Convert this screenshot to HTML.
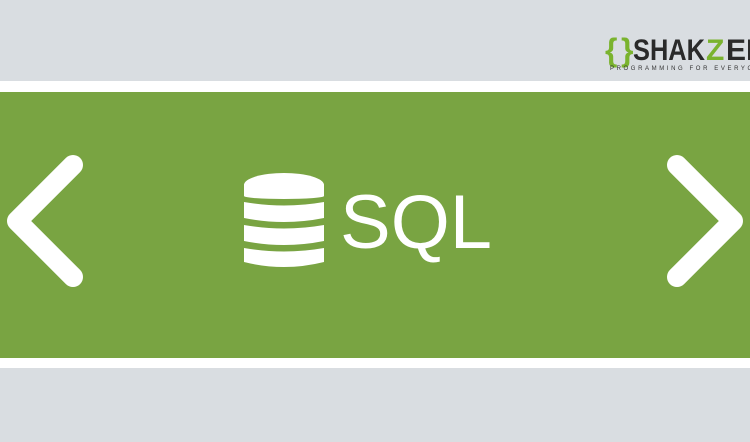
<!DOCTYPE html>
<html><head><style>
html,body{margin:0;padding:0;width:750px;height:442px;overflow:hidden;background:#d9dde1;}
</style></head><body>
<svg width="750" height="442" xmlns="http://www.w3.org/2000/svg" style="position:absolute;left:0;top:0">
<rect x="0" y="0" width="750" height="442" fill="#d9dde1"/>
<rect x="0" y="81" width="750" height="11" fill="#ffffff"/>
<rect x="0" y="92" width="750" height="266" fill="#79a442"/>
<rect x="0" y="358" width="750" height="10" fill="#ffffff"/>
<polyline points="73,165 17,221 73,277" fill="none" stroke="#fff" stroke-width="20" stroke-linecap="round" stroke-linejoin="round"/>
<polyline points="677,165 733,221 677,277" fill="none" stroke="#fff" stroke-width="20" stroke-linecap="round" stroke-linejoin="round"/>
<g fill="#fff">
<ellipse cx="284" cy="185" rx="40" ry="12"/>
<rect x="244" y="185" width="80" height="11" />
<ellipse cx="284" cy="196" rx="40" ry="3"/>
<path d="M244,202 Q284,209 324,202 L324,218 Q284,226 244,218 Z"/>
<path d="M244,225 Q284,232 324,225 L324,241 Q284,249 244,241 Z"/>
<path d="M244,248 Q284,255 324,248 L324,262 Q284,272 244,262 Z"/>
</g>
<text x="340" y="248" font-family="Liberation Sans, sans-serif" font-size="76" fill="#fff">SQL</text>
<text x="605" y="61" font-family="Liberation Sans, sans-serif" font-size="32" fill="#7ab32e" font-weight="bold">{</text>
<text x="621" y="61" font-family="Liberation Sans, sans-serif" font-size="32" fill="#7ab32e" font-weight="bold">}</text>
<text x="633" y="60" font-family="Liberation Sans, sans-serif" font-size="30" font-weight="bold" fill="#2a2a2a" textLength="72" lengthAdjust="spacingAndGlyphs">SHAK</text>
<text x="706" y="60" font-family="Liberation Sans, sans-serif" font-size="30" font-weight="bold" fill="#7ab32e">Z</text>
<text x="726" y="60" font-family="Liberation Sans, sans-serif" font-size="30" font-weight="bold" fill="#2a2a2a">EE</text>
<text x="610" y="70" font-family="Liberation Sans, sans-serif" font-size="6" fill="#333" letter-spacing="2.6">PROGRAMMING FOR EVERYONE</text>
</svg>
</body></html>
